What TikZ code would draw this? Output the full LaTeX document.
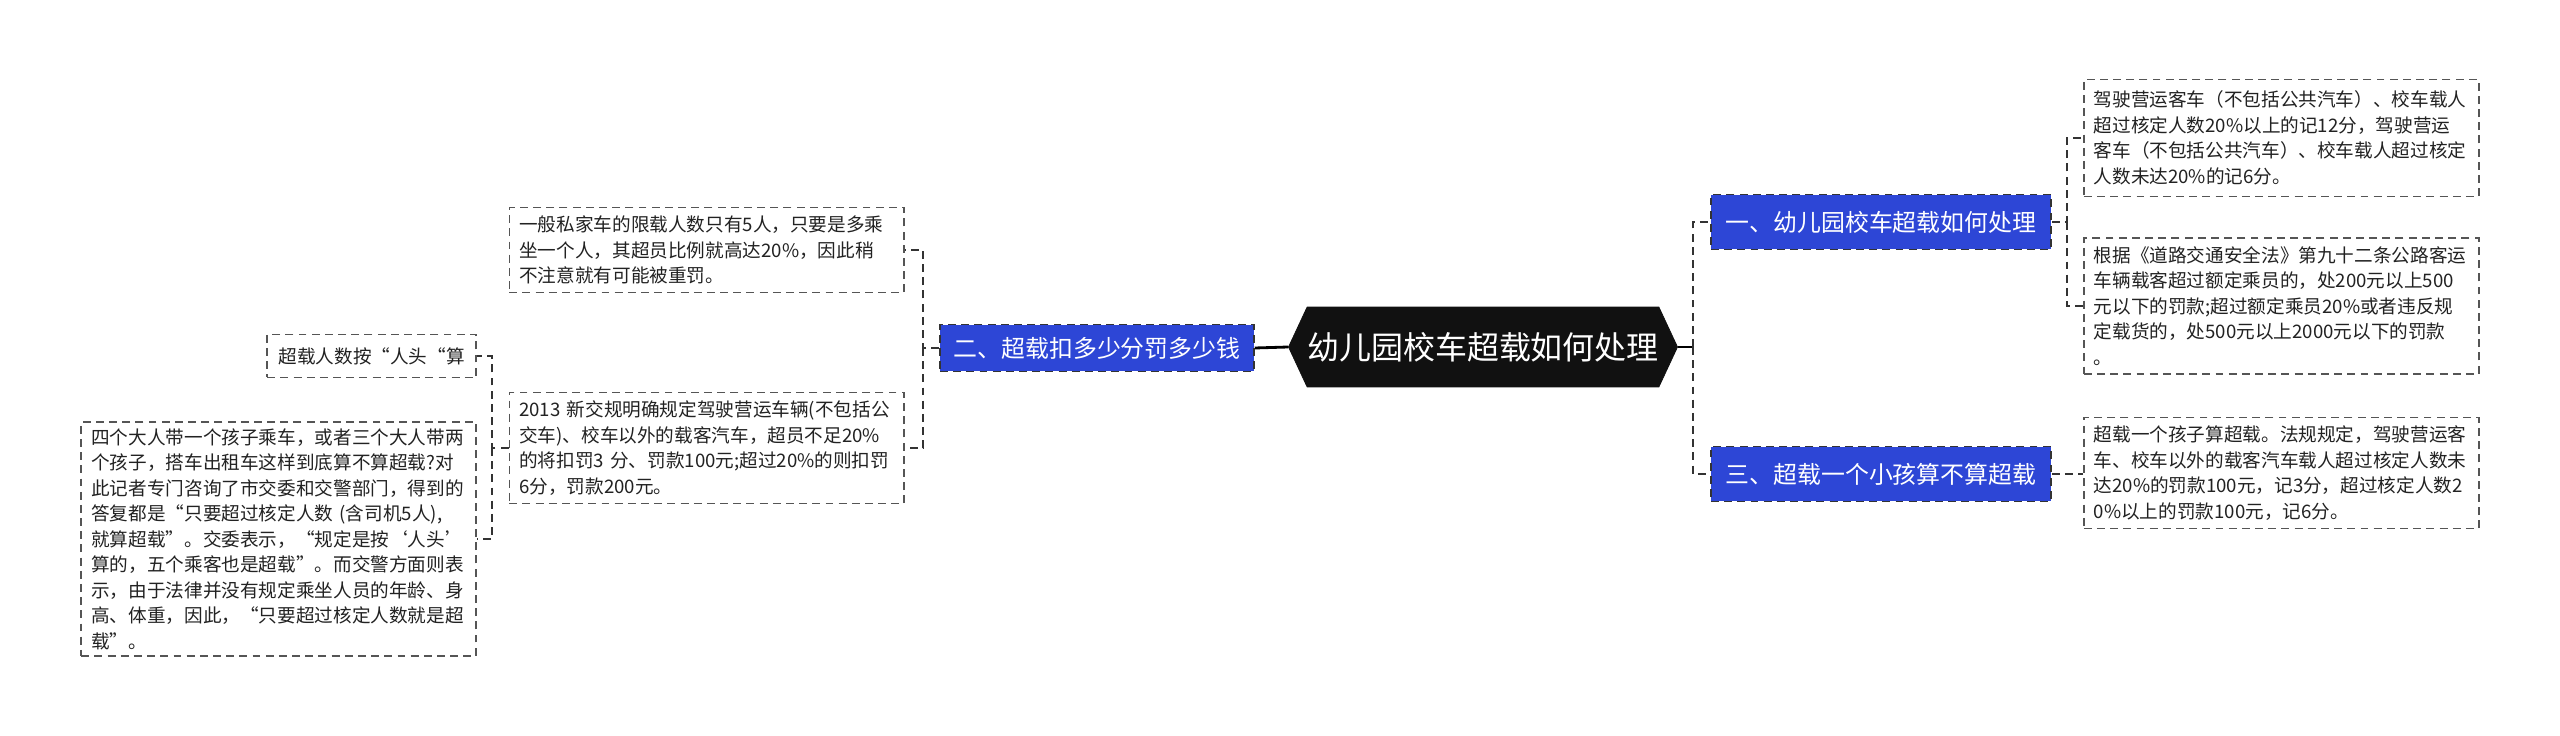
\documentclass[tikz,border=0pt]{standalone}
\usepackage{fontspec}
\setmainfont{Noto Sans CJK SC}
\usepackage{xcolor}
\usepackage{tikz}
\usetikzlibrary{shapes.symbols}
\definecolor{bg}{HTML}{FFFFFF}
\definecolor{rootbg}{HTML}{111111}
\definecolor{branchbg}{HTML}{2D46D6}
\definecolor{text}{HTML}{222222}
\definecolor{edge}{HTML}{333333}
\definecolor{frame}{HTML}{555555}
\tikzset{
  root/.style={shape=signal, signal to=west and east, signal pointer angle=130, fill=rootbg, draw=rootbg,
    text=white, font=\fontsize{18.2}{22}\selectfont, minimum width=7.74cm, minimum height=1.6cm, inner xsep=0pt},
  branch/.style={fill=branchbg, draw=edge, dash pattern=on 4.5pt off 3pt, line width=0.9pt, text=white,
    font=\fontsize{13.6}{16}\selectfont},
  card/.style={draw=frame, dash pattern=on 4.5pt off 3pt, line width=0.9pt, fill=white, text=text,
    font=\fontsize{10.6}{14.5}\selectfont, align=left, inner xsep=0.2cm, inner ysep=0.17cm},
  leaf/.style={card, text width=7.5cm},
  link/.style={draw=edge, dash pattern=on 4.5pt off 3pt, line width=1.1pt},
  trunk/.style={draw=black, line width=1.6pt},
}
\begin{document}
\begin{tikzpicture}[x=0.02cm, y=-0.02cm]
  \fill[bg] (0,0) rectangle (2560,736);
  \useasboundingbox (0,0) rectangle (2560,736);

  % centre and main branches
  \node[root] (root) at (1483,347) {幼儿园校车超载如何处理};
  \node[branch, minimum width=6.28cm, minimum height=0.94cm] (n2) at (1097,348) {二、超载扣多少分罚多少钱};
  \node[branch, minimum width=6.8cm, minimum height=1.1cm] (n1) at (1881,222) {一、幼儿园校车超载如何处理};
  \node[branch, minimum width=6.8cm, minimum height=1.1cm] (n3) at (1881,474) {三、超载一个小孩算不算超载};

  % right leaves
  \node[leaf, anchor=west, minimum height=2.34cm] (r1) at (2083,138) {驾驶营运客车（不包括公共汽车）、校车载人\\超过核定人数20\%以上的记12分，驾驶营运\\客车（不包括公共汽车）、校车载人超过核定\\人数未达20\%的记6分。};
  \node[leaf, anchor=west] (r2) at (2083,306) {根据《道路交通安全法》第九十二条公路客运\\车辆载客超过额定乘员的，处200元以上500\\元以下的罚款;超过额定乘员20\%或者违反规\\定载货的，处500元以上2000元以下的罚款\\。};
  \node[leaf, anchor=west] (r3) at (2083,473) {超载一个孩子算超载。法规规定，驾驶营运客\\车、校车以外的载客汽车载人超过核定人数未\\达20\%的罚款100元，记3分，超过核定人数2\\0\%以上的罚款100元，记6分。};

  % left leaves
  \node[leaf, anchor=east] (lA) at (905,250) {一般私家车的限载人数只有5人，只要是多乘\\坐一个人，其超员比例就高达20\%，因此稍\\不注意就有可能被重罚。};
  \node[leaf, anchor=east] (lB) at (905,448) {2013 新交规明确规定驾驶营运车辆(不包括公\\交车)、校车以外的载客汽车，超员不足20\%\\的将扣罚3 分、罚款100元;超过20\%的则扣罚\\6分，罚款200元。};
  \node[card, anchor=east, minimum width=4.18cm, minimum height=0.86cm, inner ysep=0.1cm] (hc) at (477,356) {超载人数按“人头“算};
  \node[leaf, anchor=east, inner ysep=0.13cm] (big) at (477,539) {四个大人带一个孩子乘车，或者三个大人带两\\个孩子，搭车出租车这样到底算不算超载?对\\此记者专门咨询了市交委和交警部门，得到的\\答复都是“只要超过核定人数 (含司机5人),\\就算超载”。交委表示，“规定是按‘人头’\\算的，五个乘客也是超载”。而交警方面则表\\示，由于法律并没有规定乘坐人员的年龄、身\\高、体重，因此，“只要超过核定人数就是超\\载”。};

  % connectors
  \coordinate (rb) at (1693,347);
  \coordinate (b1) at (2067,222);
  \coordinate (b2) at (923,348);
  \coordinate (b3) at (492,448);
  \draw[trunk] (root.west) -- (n2.east);
  \draw[trunk] (root.east) -- (rb);
  \draw[link] (rb) |- (n1.west);
  \draw[link] (rb) |- (n3.west);
  \draw[link] (n1.east) -- (b1) |- (r1.west);
  \draw[link] (b1) |- (r2.west);
  \draw[link] (n3.east) -- (n3.east -| r3.west);
  \draw[link] (n2.west) -- (b2) |- (lA.east);
  \draw[link] (b2) |- (lB.east);
  \draw[link] (lB.west) -- (b3) |- (hc.east);
  \draw[link] (b3) |- (big.east);
\end{tikzpicture}
\end{document}
